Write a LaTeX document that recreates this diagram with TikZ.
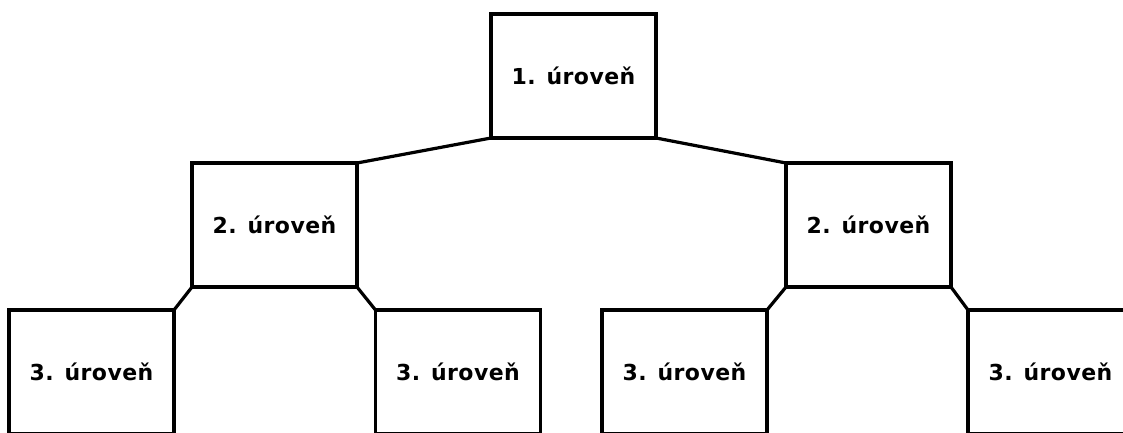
\documentclass[tikz,border=0pt]{standalone}
\usepackage{fontspec}
\setmainfont{DejaVu Sans}[LetterSpace=2]
\begin{document}
\begin{tikzpicture}[x=1pt,y=-1pt,
  lvlbox/.style={draw=black, line width=3.2pt, rectangle, minimum width=165pt,
    minimum height=124pt, inner sep=0pt, outer sep=0pt,
    font=\fontsize{22}{26}\selectfont\bfseries},
  conn/.style={draw=black, line width=3.2pt}]
\useasboundingbox (0,0) rectangle (1123,432);
\clip (0,0) rectangle (1123,432);
\node[lvlbox] (l1) at (573.5,76) {1. úroveň};
\node[lvlbox] (l2a) at (274.5,225) {2. úroveň};
\node[lvlbox] (l2b) at (868.5,225) {2. úroveň};
\node[lvlbox] (l3a) at (91.5,372) {3. úroveň};
\node[lvlbox] (l3b) at (458,372) {3. úroveň};
\node[lvlbox] (l3c) at (684.5,372) {3. úroveň};
\node[lvlbox] (l3d) at (1050.5,372) {3. úroveň};
\draw[conn] (l1.south west) -- (l2a.north east);
\draw[conn] (l1.south east) -- (l2b.north west);
\draw[conn] (l2a.south west) -- (l3a.north east);
\draw[conn] (l2a.south east) -- (l3b.north west);
\draw[conn] (l2b.south west) -- (l3c.north east);
\draw[conn] (l2b.south east) -- (l3d.north west);
\end{tikzpicture}
\end{document}
